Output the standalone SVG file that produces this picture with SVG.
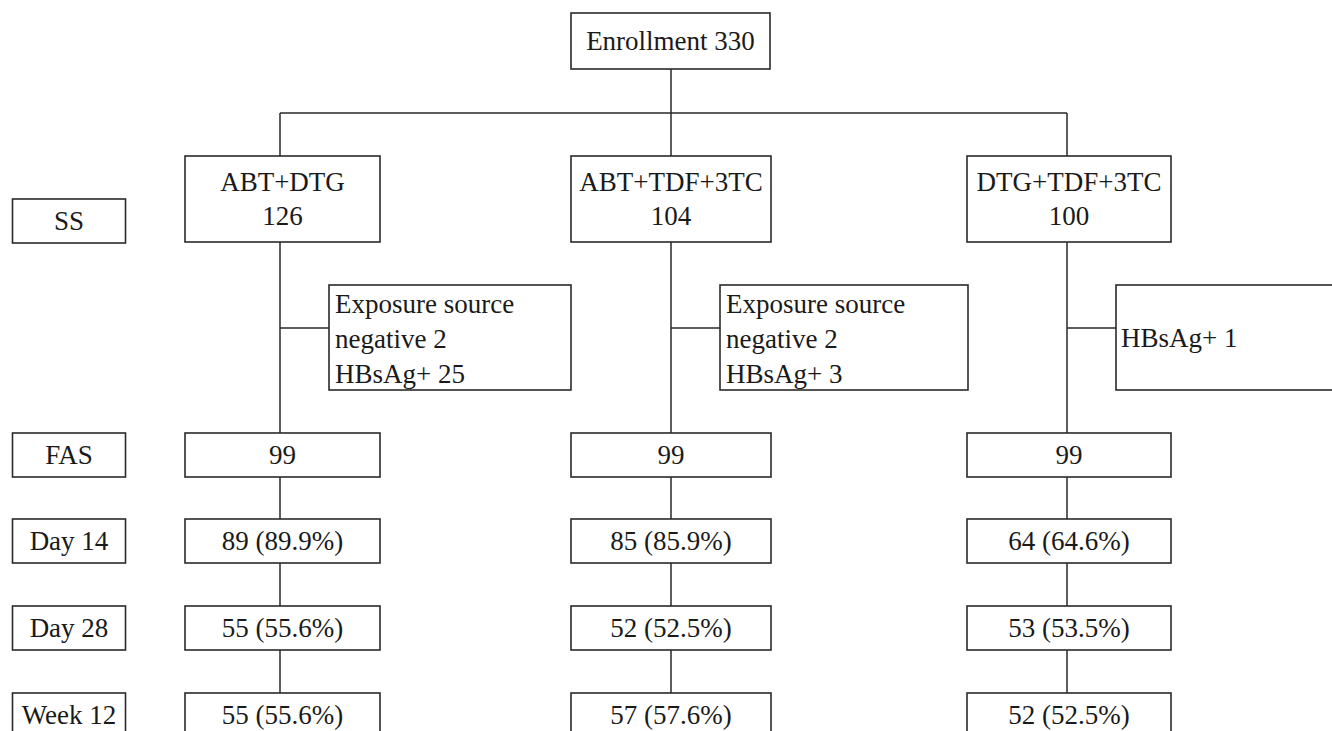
<svg xmlns="http://www.w3.org/2000/svg" width="1332" height="731" viewBox="0 0 1332 731">
<style>
.b{fill:#fff;stroke:#2a2a2a;stroke-width:1.6}
.t{font-family:'Liberation Serif','Times New Roman',serif;font-size:27px;fill:#1a1a1a}
.c{text-anchor:middle}
.l{fill:none;stroke:#2a2a2a;stroke-width:1.5}
</style>
<rect width="1332" height="731" fill="#fff"/>
<g id="connectors">
<path class="l" d="M671 69V113M280 113H1067M280 113V156M671 113V156M1067 113V156"/>
<path class="l" d="M280 242V433M671 242V433M1067 242V433"/>
<path class="l" d="M280 328H329M671 328H720M1067 328H1116"/>
<path class="l" d="M280 477V519M671 477V519M1067 477V519"/>
<path class="l" d="M280 563V606M671 563V606M1067 563V606"/>
<path class="l" d="M280 650V693M671 650V693M1067 650V693"/>
</g>
<g id="enrollment"><rect class="b" x="571" y="13" width="199" height="56"/><text class="t c" x="670.5" y="50">Enrollment 330</text></g>
<g id="ss"><rect class="b" x="12.5" y="199" width="113" height="44"/><text class="t c" x="69" y="230">SS</text></g>
<g id="fas"><rect class="b" x="12.5" y="433" width="113" height="44"/><text class="t c" x="69" y="464">FAS</text></g>
<g id="day14"><rect class="b" x="12.5" y="519" width="113" height="44"/><text class="t c" x="69" y="550">Day 14</text></g>
<g id="day28"><rect class="b" x="12.5" y="606" width="113" height="44"/><text class="t c" x="69" y="637">Day 28</text></g>
<g id="week12"><rect class="b" x="12.5" y="693" width="113" height="44"/><text class="t c" x="69" y="724">Week 12</text></g>
<g id="arm1"><rect class="b" x="185" y="156" width="195" height="86"/><text class="t c" x="282.5" y="191">ABT+DTG</text><text class="t c" x="282.5" y="225">126</text></g>
<g id="arm2"><rect class="b" x="571" y="156" width="200" height="86"/><text class="t c" x="671" y="191">ABT+TDF+3TC</text><text class="t c" x="671" y="225">104</text></g>
<g id="arm3"><rect class="b" x="967" y="156" width="204" height="86"/><text class="t c" x="1069" y="191">DTG+TDF+3TC</text><text class="t c" x="1069" y="225">100</text></g>
<g id="excl1"><rect class="b" x="329" y="285" width="242" height="105"/><text class="t" x="335" y="313">Exposure source</text><text class="t" x="335" y="348">negative 2</text><text class="t" x="335" y="383">HBsAg+ 25</text></g>
<g id="excl2"><rect class="b" x="720" y="285" width="248" height="105"/><text class="t" x="726" y="313">Exposure source</text><text class="t" x="726" y="348">negative 2</text><text class="t" x="726" y="383">HBsAg+ 3</text></g>
<g id="excl3"><rect class="b" x="1116" y="285" width="230" height="105"/><text class="t" x="1121" y="347">HBsAg+ 1</text></g>
<g id="fas1"><rect class="b" x="185" y="433" width="195" height="44"/><text class="t c" x="282.5" y="464">99</text></g>
<g id="fas2"><rect class="b" x="571" y="433" width="200" height="44"/><text class="t c" x="671" y="464">99</text></g>
<g id="fas3"><rect class="b" x="967" y="433" width="204" height="44"/><text class="t c" x="1069" y="464">99</text></g>
<g id="d14a"><rect class="b" x="185" y="519" width="195" height="44"/><text class="t c" x="282.5" y="550">89 (89.9%)</text></g>
<g id="d14b"><rect class="b" x="571" y="519" width="200" height="44"/><text class="t c" x="671" y="550">85 (85.9%)</text></g>
<g id="d14c"><rect class="b" x="967" y="519" width="204" height="44"/><text class="t c" x="1069" y="550">64 (64.6%)</text></g>
<g id="d28a"><rect class="b" x="185" y="606" width="195" height="44"/><text class="t c" x="282.5" y="637">55 (55.6%)</text></g>
<g id="d28b"><rect class="b" x="571" y="606" width="200" height="44"/><text class="t c" x="671" y="637">52 (52.5%)</text></g>
<g id="d28c"><rect class="b" x="967" y="606" width="204" height="44"/><text class="t c" x="1069" y="637">53 (53.5%)</text></g>
<g id="w12a"><rect class="b" x="185" y="693" width="195" height="44"/><text class="t c" x="282.5" y="724">55 (55.6%)</text></g>
<g id="w12b"><rect class="b" x="571" y="693" width="200" height="44"/><text class="t c" x="671" y="724">57 (57.6%)</text></g>
<g id="w12c"><rect class="b" x="967" y="693" width="204" height="44"/><text class="t c" x="1069" y="724">52 (52.5%)</text></g>
</svg>
